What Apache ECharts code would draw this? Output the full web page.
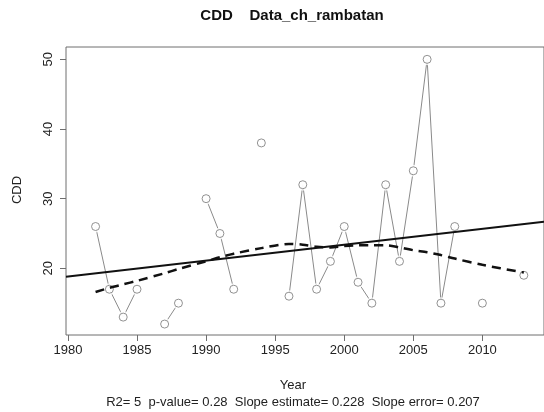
<!DOCTYPE html>
<html><head><meta charset="utf-8">
<script src="https://cdn.jsdelivr.net/npm/echarts@6/dist/echarts.min.js"></script>
<style>html,body{margin:0;padding:0;background:#fff}#c{width:544px;height:412px}</style>
</head><body><div id="c"></div>
<script>
const years = [1982,1983,1984,1985,1986,1987,1988,1989,1990,1991,1992,1993,1994,1995,1996,1997,1998,1999,2000,2001,2002,2003,2004,2005,2006,2007,2008,2009,2010,2011,2012,2013];
const cdd   = [26,17,13,17,null,12,15,null,30,25,17,null,38,null,16,32,17,21,26,18,15,32,21,34,50,15,26,null,15,null,null,19];
const smoothYears = [1982,1983,1984,1985,1987,1988,1990,1991,1992,1994,1996,1997,1998,1999,2000,2001,2002,2003,2004,2005,2006,2007,2008,2010,2013];
const smoothVals  = [16.6,17.2,17.7,18.2,19.3,19.9,21.0,21.6,22.1,22.9,23.5,23.4,23.1,23.0,23.2,23.3,23.3,23.3,23.0,22.6,22.3,21.9,21.4,20.5,19.4];
const trendYears = [1979.86, 2014.46];
const trendVals  = [18.80, 26.69];
const xTicks = [1980,1985,1990,1995,2000,2005,2010];
const yTicks = [20,30,40,50];
const titleText = 'CDD    Data_ch_rambatan';
const xName = 'Year';
const yName = 'CDD';
const statsText = 'R2= 5  p-value= 0.28  Slope estimate= 0.228  Slope error= 0.207';

const lineData = years.map((y,i)=>[y, cdd[i]===null?'-':cdd[i]]);
const ptData = years.map((y,i)=>[y,cdd[i]]).filter(d=>d[1]!==null);
const FONT = '"Liberation Sans", Arial, sans-serif';
const chart = echarts.init(document.getElementById('c'), null, {renderer:'canvas'});
chart.setOption({
  animation:false,
  grid:{left:66, top:47, width:482, height:288, show:true, borderColor:'#6e6e6e', borderWidth:1, containLabel:false},
  xAxis:{type:'value', min:1979.86, max:2014.46, splitLine:{show:false},
    axisLine:{show:false},
    axisTick:{show:true, inside:false, length:6, customValues:xTicks, lineStyle:{color:'#6e6e6e'}},
    axisLabel:{customValues:xTicks, formatter:v=>String(v), margin:9, color:'#222', fontSize:13, fontFamily:FONT}},
  yAxis:{type:'value', min:10.43, max:51.77, splitLine:{show:false},
    axisLine:{show:false},
    axisTick:{show:true, inside:false, length:6, customValues:yTicks, lineStyle:{color:'#6e6e6e'}},
    axisLabel:{customValues:yTicks, formatter:v=>String(v), rotate:90, margin:11, color:'#222', fontSize:13, fontFamily:FONT}},
  series:[
    {type:'line', data:lineData, showSymbol:false, connectNulls:false, lineStyle:{color:'#8a8a8a', width:1}, z:2, silent:true},
    {type:'scatter', data:ptData, symbol:'circle', symbolSize:12, itemStyle:{color:'#fff'}, z:3, silent:true},
    {type:'scatter', data:ptData, symbol:'circle', symbolSize:8, itemStyle:{color:'#fff', borderColor:'#777', borderWidth:1}, z:4, silent:true},
    {type:'line', data:trendYears.map((y,i)=>[y,trendVals[i]]), showSymbol:false, lineStyle:{color:'#111', width:2}, z:5, silent:true},
    {type:'line', data:smoothYears.map((y,i)=>[y,smoothVals[i]]), showSymbol:false, smooth:0.3, lineStyle:{color:'#111', width:2.5, type:[9,6]}, z:6, silent:true}
  ],
  graphic:[
    {type:'text', x:292, y:16, style:{text:titleText, font:'bold 15px '+FONT, fill:'#111', textAlign:'center', textVerticalAlign:'middle'}},
    {type:'text', x:17, y:190, rotation:Math.PI/2, style:{text:yName, font:'13px '+FONT, fill:'#222', textAlign:'center', textVerticalAlign:'middle'}},
    {type:'text', x:293, y:385, style:{text:xName, font:'13px '+FONT, fill:'#222', textAlign:'center', textVerticalAlign:'middle'}},
    {type:'text', x:293, y:402, style:{text:statsText, font:'13px '+FONT, fill:'#222', textAlign:'center', textVerticalAlign:'middle'}}
  ]
});
</script></body></html>
